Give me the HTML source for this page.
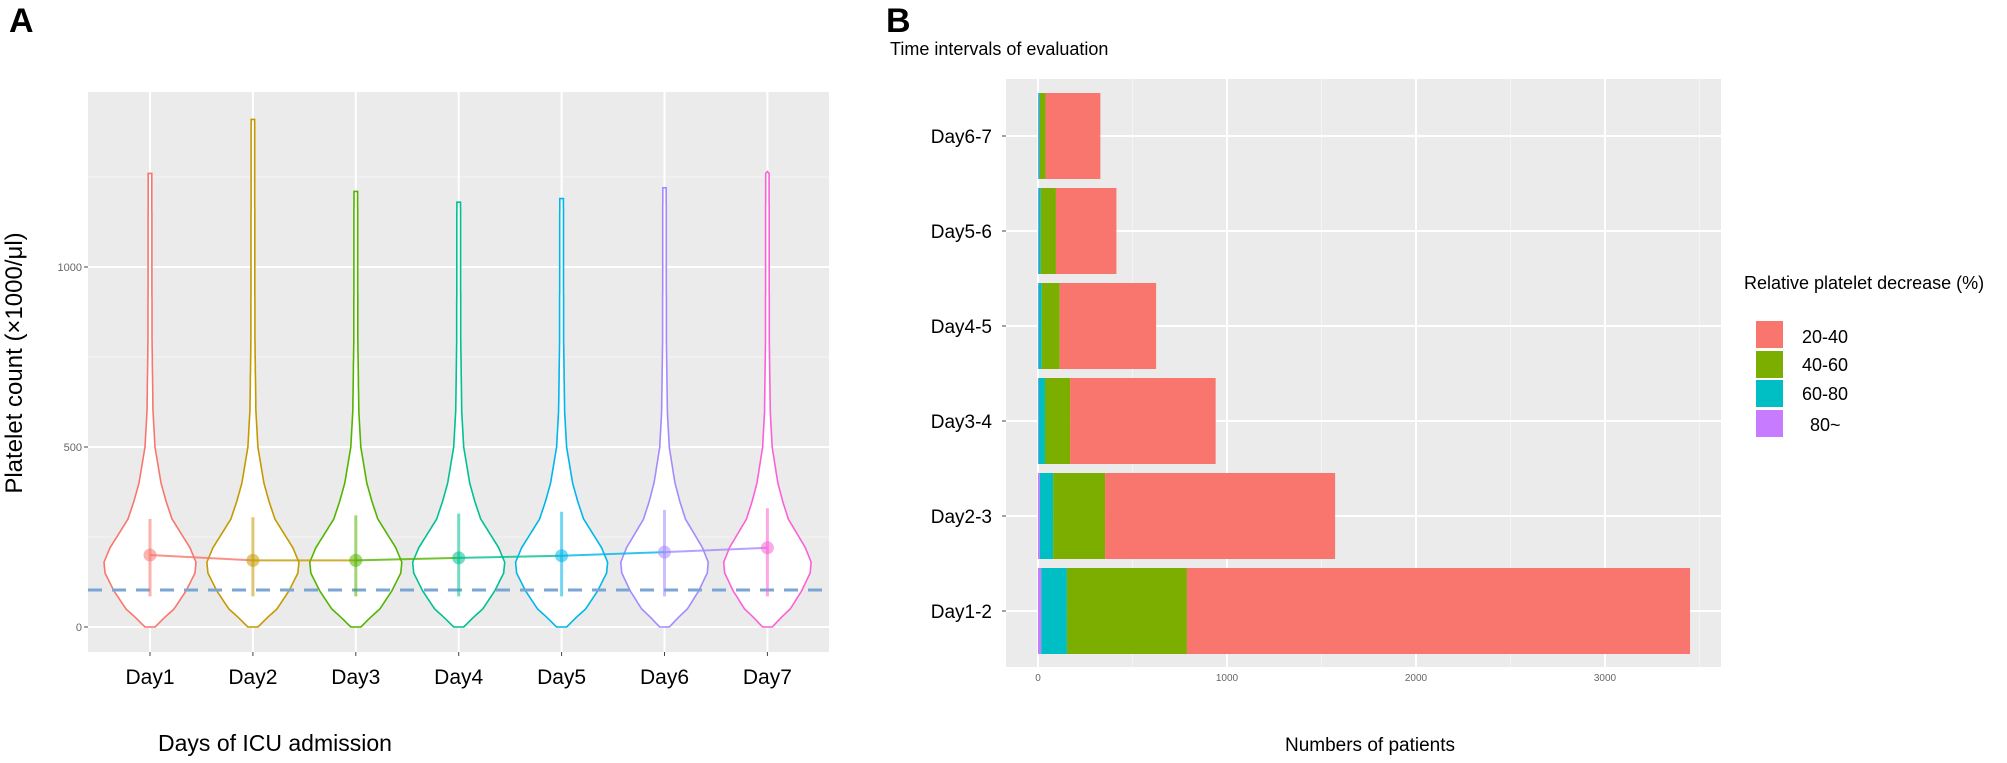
<!DOCTYPE html>
<html><head><meta charset="utf-8"><style>
body{margin:0;background:#fff}
svg{display:block}
text{font-family:"Liberation Sans",Arial,sans-serif}
</style></head><body>
<svg id="s" width="2007" height="763" xmlns="http://www.w3.org/2000/svg">
<rect width="2007" height="763" fill="#fff"/>
<text x="9" y="32" font-size="34" font-weight="bold">A</text>
<text x="886" y="32" font-size="34" font-weight="bold">B</text>
<rect x="88" y="92" width="741" height="560" fill="#ebebeb"/>
<g id="ga"></g>
<text transform="translate(22,363) rotate(-90)" font-size="24" text-anchor="middle">Platelet count (×1000/μl)</text>
<text x="275" y="751" font-size="23" text-anchor="middle">Days of ICU admission</text>
<rect x="1006" y="79" width="715" height="588" fill="#ebebeb"/>
<g id="gb"></g>
<text x="890" y="55" font-size="18">Time intervals of evaluation</text>
<text x="1370" y="751" font-size="19" text-anchor="middle">Numbers of patients</text>
<text x="1744" y="289" font-size="18">Relative platelet decrease (%)</text>
<rect x="1756" y="321" width="27" height="27" fill="#F8766D"/>
<rect x="1756" y="351" width="27" height="27" fill="#7CAE00"/>
<rect x="1756" y="380" width="27" height="27" fill="#00BFC4"/>
<rect x="1756" y="410" width="27" height="27" fill="#C77CFF"/>
<text x="1802" y="343" font-size="18">20-40</text>
<text x="1802" y="371" font-size="18">40-60</text>
<text x="1802" y="400" font-size="18">60-80</text>
<text x="1810" y="431" font-size="18">80~</text>
</svg>
<script>
var NS="http://www.w3.org/2000/svg";
function el(p,t,a,txt){var e=document.createElementNS(NS,t);for(var k in a)e.setAttribute(k,a[k]);if(txt!==undefined)e.textContent=txt;p.appendChild(e);return e;}
var ga=document.getElementById('ga');
function Y(v){return 627-0.36*v;}
[250,750,1250].forEach(function(v){el(ga,'line',{x1:88,x2:829,y1:Y(v),y2:Y(v),stroke:'#f4f4f4','stroke-width':1});});
[0,500,1000].forEach(function(v){el(ga,'line',{x1:88,x2:829,y1:Y(v),y2:Y(v),stroke:'#fff','stroke-width':2});
 el(ga,'text',{x:82,y:Y(v)+4,'font-size':11,fill:'#666','text-anchor':'end'},v);
 el(ga,'line',{x1:84,x2:88,y1:Y(v),y2:Y(v),stroke:'#444'});});
var cols=['#F8766D','#C49A00','#53B400','#00C094','#00B6EB','#A58AFF','#FB61D7'];
var tops=[1260,1410,1210,1180,1190,1220,1265];
var means=[200,185,185,192,198,208,220];
var tab=[[0,5],[25,14],[50,24],[100,36],[150,45],[180,46],[220,40],[260,31],[300,22],[350,16],[400,11],[450,8],[500,5],[600,3],[800,2],[2000,1.5]];
function hw(v){for(var i=1;i<tab.length;i++){if(v<=tab[i][0]){var a=tab[i-1],b=tab[i];return a[1]+(b[1]-a[1])*(v-a[0])/(b[0]-a[0]);}}return 1.5;}
var xs=[];
for(var d=0;d<7;d++){var x=150+102.9*d;xs.push(x);
 el(ga,'line',{x1:x,x2:x,y1:92,y2:652,stroke:'#fff','stroke-width':2});
 el(ga,'line',{x1:x,x2:x,y1:652,y2:656,stroke:'#444'});
 el(ga,'text',{x:x,y:684,'font-size':21,'text-anchor':'middle'},'Day'+(d+1));}
var line='';
for(var d=0;d<7;d++){var x=xs[d],sc=(d==5||d==6)?0.95:1,pts=[],L=[];
 for(var v=0;v<=tops[d];v+=10){var w=hw(v)*sc;pts.push((x+w).toFixed(1)+','+Y(v).toFixed(1));L.unshift((x-w).toFixed(1)+','+Y(v).toFixed(1));}
 pts.push(x+','+Y(tops[d]));
 el(ga,'polygon',{points:pts.concat(L).join(' '),fill:'#fff',stroke:cols[d],'stroke-width':1.6});
}
el(ga,'line',{x1:88,x2:829,y1:590,y2:590,stroke:'#7aa6d3','stroke-width':3,'stroke-dasharray':'14,10'});
for(var d=0;d<7;d++){var x=xs[d];
 el(ga,'line',{x1:x,x2:x,y1:Y(85),y2:Y(300+d*5),stroke:cols[d],'stroke-width':3,opacity:0.55});}
for(var d=0;d<6;d++)el(ga,'line',{x1:xs[d],x2:xs[d+1],y1:Y(means[d]),y2:Y(means[d+1]),stroke:cols[d],'stroke-width':2,opacity:0.8});
for(var d=0;d<7;d++)el(ga,'circle',{cx:xs[d],cy:Y(means[d]),r:6.5,fill:cols[d],opacity:0.55});
var gb=document.getElementById('gb');
function X(v){return 1038+0.189*v;}
[500,1500,2500,3500].forEach(function(v){if(X(v)<1721)el(gb,'line',{x1:X(v),x2:X(v),y1:79,y2:667,stroke:'#f4f4f4','stroke-width':1});});
[0,1000,2000,3000].forEach(function(v){el(gb,'line',{x1:X(v),x2:X(v),y1:79,y2:667,stroke:'#fff','stroke-width':2});
 el(gb,'text',{x:X(v),y:681,'font-size':10,fill:'#666','text-anchor':'middle'},v);});
var cats=['Day1-2','Day2-3','Day3-4','Day4-5','Day5-6','Day6-7'];
var segs=[[17,153,788,3450],[10,80,355,1572],[3,37,170,940],[3,20,115,625],[3,15,95,415],[3,10,40,330]];
var sc=['#C77CFF','#00BFC4','#7CAE00','#F8766D'];
for(var i=0;i<6;i++){var cy=611-95*i;
 el(gb,'line',{x1:1006,x2:1721,y1:cy,y2:cy,stroke:'#fff','stroke-width':2});
 el(gb,'line',{x1:1002,x2:1006,y1:cy,y2:cy,stroke:'#444'});
 el(gb,'text',{x:992,y:cy+7,'font-size':19,'text-anchor':'end'},cats[i]);
 var prev=0;for(var j=0;j<4;j++){el(gb,'rect',{x:X(prev),y:cy-43,width:X(segs[i][j])-X(prev),height:86,fill:sc[j]});prev=segs[i][j];}
}
</script>
</body></html>
